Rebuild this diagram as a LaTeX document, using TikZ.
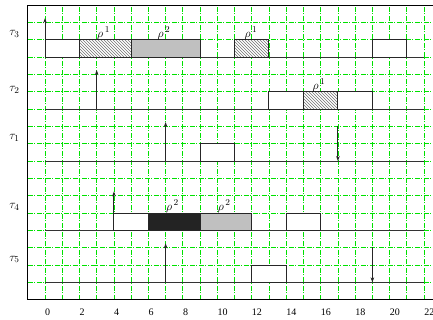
\documentclass[tikz,border=0pt]{standalone}
\usepackage{fontspec}
\setmainfont{Liberation Serif}
\usetikzlibrary{patterns,arrows.meta}
\definecolor{gridgreen}{RGB}{0,225,0}
\definecolor{gbox}{RGB}{192,192,192}
\definecolor{dbox}{RGB}{35,35,35}
\begin{document}
\begin{tikzpicture}[x=17.23pt,y=17.33pt,
  gridline/.style={gridgreen, line width=0.8pt, dash pattern=on 5pt off 1.5pt on 1pt off 1.5pt},
  framestyle/.style={black, line width=1.1pt},
  tline/.style={black!80, line width=1.1pt},
  wbox/.style={draw=black!85, line width=1pt, fill=white},
  hbox/.style={draw=black!85, line width=1pt, preaction={fill=white}, pattern=north west lines, pattern color=black!55},
  gboxs/.style={draw=black!85, line width=1pt, fill=gbox},
  dboxs/.style={draw=black!85, line width=1pt, fill=dbox},
  rel/.style={black!85, line width=0.9pt, -{Stealth[length=5pt,width=3.6pt]}},
  tlabel/.style={inner sep=0pt, font=\fontsize{13}{14}\selectfont},
  num/.style={anchor=base west, inner sep=0pt, font=\fontsize{10}{12}\selectfont},
  rlabel/.style={anchor=south, inner sep=0.2pt, font=\fontsize{12.5}{14}\selectfont}
]
\useasboundingbox (-2.612,-1.171) rectangle (22.519,17.294);
\begin{scope}
\clip (-2.612,-1.171) rectangle (22.519,17.294);
\foreach \t in {0,...,22} \draw[gridline] (\t,0) -- (\t,17);
\foreach \y in {1,...,16} \draw[gridline] (-1,\y) -- (23,\y);
\draw[framestyle] (-1,0) rectangle (23,17);
\end{scope}

% time lines
\draw[tline] (0,14) -- (22,14);
\draw[tline] (0,11) -- (22,11);
\draw[tline] (0,8) -- (22,8);
\draw[tline] (0,4) -- (22,4);
\draw[tline] (0,1) -- (22,1);

% tau3
\draw[wbox] (0,14) rectangle (2,15);
\draw[hbox] (2,14) rectangle (5,15);
\draw[gboxs] (5,14) rectangle (9,15);
\draw[hbox] (11,14) rectangle (13,15);
\draw[wbox] (19,14) rectangle (21,15);
% tau2
\draw[wbox] (13,11) rectangle (15,12);
\draw[hbox] (15,11) rectangle (17,12);
\draw[wbox] (17,11) rectangle (19,12);
% tau1
\draw[wbox] (9,8) rectangle (11,9);
% tau4
\draw[wbox] (4,4) rectangle (6,5);
\draw[dboxs] (6,4) rectangle (9,5);
\draw[gboxs] (9,4) rectangle (12,5);
\draw[wbox] (14,4) rectangle (16,5);
% tau5
\draw[wbox] (12,1) rectangle (14,2);

% arrows
\coordinate (a1s) at (0,14);   \coordinate (a1e) at (0,16.25);
\coordinate (a2s) at (3,11);   \coordinate (a2e) at (3,13.25);
\coordinate (a3s) at (7,8);    \coordinate (a3e) at (7,10.25);
\coordinate (d1s) at (17,10.05); \coordinate (d1e) at (17,8);
\coordinate (a4s) at (4,4);    \coordinate (a4e) at (4,6.25);
\coordinate (a5s) at (7,1);    \coordinate (a5e) at (7,3.25);
\coordinate (d2s) at (19,3.05); \coordinate (d2e) at (19,1);
\draw[rel] (a1s) -- (a1e);
\draw[rel] (a2s) -- (a2e);
\draw[rel] (a3s) -- (a3e);
\draw[rel] (d1s) -- (d1e);
\draw[rel] (a4s) -- (a4e);
\draw[rel] (a5s) -- (a5e);
\draw[rel] (d2s) -- (d2e);

% rho labels
\node[rlabel] (r1) at (3.4,15) {$\rho^{\,1}$};
\node[rlabel] (r2) at (6.9,15) {$\rho^{\,2}$};
\node[rlabel] (r3) at (11.95,15) {$\rho^{\,1}$};
\node[rlabel] (r4) at (15.9,12) {$\rho^{\,1}$};
\node[rlabel] (r5) at (7.4,5) {$\rho^{\,2}$};
\node[rlabel] (r6) at (10.4,5) {$\rho^{\,2}$};

% task labels
\node[tlabel] (t3) at (-1.77,15.33) {$\tau_3$};
\node[tlabel] (t2) at (-1.77,12.1) {$\tau_2$};
\node[tlabel] (t1) at (-1.77,9.33) {$\tau_1$};
\node[tlabel] (t4) at (-1.77,5.35) {$\tau_4$};
\node[tlabel] (t5) at (-1.77,2.32) {$\tau_5$};

% axis numbers
\foreach \n in {0,2,...,22} \node[num] (n\n) at (\n,-0.9) {\n};
\end{tikzpicture}
\end{document}
